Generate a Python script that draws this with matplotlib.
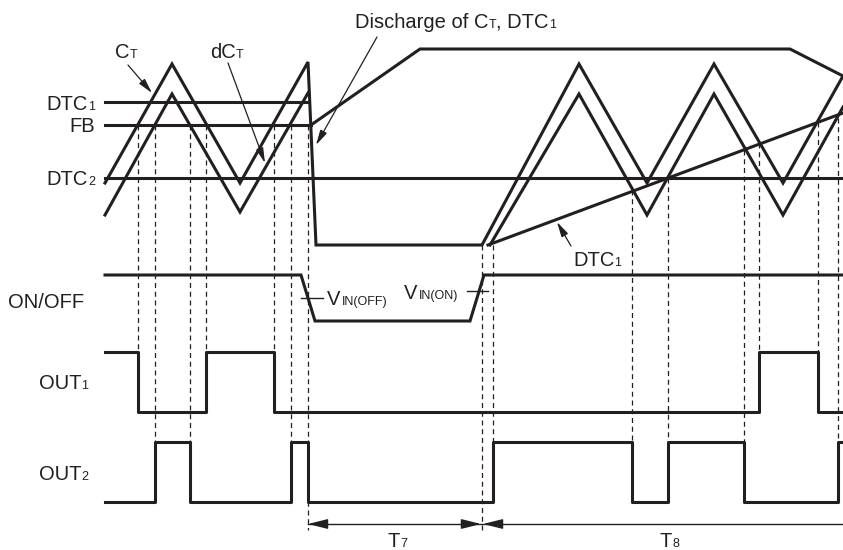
import matplotlib
matplotlib.use("Agg")
import matplotlib.pyplot as plt

plt.rcParams["font.family"] = ["Liberation Sans", "DejaVu Sans"]

INK = "#231f20"
BIG = 14.5
SUB = 9

# waveform vertices in sheet pixels (843 x 550, y grows downwards)
ct_x = [105, 172, 240, 308, 316, 482, 579, 647, 714, 783, 843]
ct_y = [183, 64, 183, 62, 245, 245, 64, 183, 64, 183, 76]
dct_a_x = [105, 172, 240, 308]
dct_a_y = [215, 94, 212, 93]
dct_b_x = [490, 579, 647, 714, 783, 843]
dct_b_y = [245, 94, 215, 94, 215, 107]
dtc1_x = [105, 308]
dtc1_y = [102, 102]
fb_x = [105, 311]
fb_y = [125, 125]
dtc1_up_x = [311, 420, 790, 843]
dtc1_up_y = [125, 49, 49, 76]
dtc1_ramp_x = [488, 843]
dtc1_ramp_y = [245, 113]
dtc2_x = [105, 843]
dtc2_y = [178, 178]
onoff_x = [105, 301, 315, 470, 484, 843]
onoff_y = [275, 275, 321, 321, 275, 275]
out1_x = [105, 138, 206, 274, 759, 818, 843]
out1_y = [352, 412, 352, 412, 352, 412, 412]
out2_x = [105, 155, 190, 291, 308, 493, 632, 668, 744, 838, 843]
out2_y = [502, 442, 502, 442, 502, 442, 502, 442, 502, 442, 442]

# dashed timing guides
dash_x = [138, 155, 190, 206, 274, 291, 308, 482, 493, 632, 668, 744, 759, 818, 838]
dash_top = [125, 125, 125, 125, 125, 125, 125, 245, 245, 190, 178, 150, 143, 122, 118]
dash_bot = [352, 442, 442, 352, 352, 442, 530, 530, 442, 442, 442, 442, 352, 352, 442]

# threshold ticks on ON/OFF
vin_ticks = [((301, 323), 298), ((467, 488), 291)]

# pointer arrows: (from, tip)
pointers = [
    ((128, 65), (152, 93)),
    ((228, 63), (265, 163)),
    ((377, 37), (316, 145)),
    ((571, 246), (557, 222)),
]

# period bar
t_bar_y = 524
t_bar_x = [308, 843]
t_tips = [(308, -1), (481, 1), (483, -1)]

# labels: x, baseline y, [(text, is_subscript)], alignment
labels = [
    (115, 58, [("C", 0), ("T", 1)], "left"),
    (210, 58, [("dC", 0), ("T", 1)], "left"),
    (355, 28, [("Discharge of C", 0), ("T", 1), (", DTC", 0), ("1", 1)], "left"),
    (95, 110, [("DTC", 0), ("1", 1)], "right"),
    (95, 132, [("FB", 0)], "right"),
    (95, 185, [("DTC", 0), ("2", 1)], "right"),
    (8, 308, [("ON/OFF", 0)], "left"),
    (88, 389, [("OUT", 0), ("1", 1)], "right"),
    (88, 480, [("OUT", 0), ("2", 1)], "right"),
    (327, 305, [("V", 0), ("IN(OFF)", 1)], "left"),
    (404, 299, [("V", 0), ("IN(ON)", 1)], "left"),
    (573, 266, [("DTC", 0), ("1", 1)], "left"),
    (388, 547, [("T", 0), ("7", 1)], "left"),
    (660, 547, [("T", 0), ("8", 1)], "left"),
]


def seg_text(ax, x, y, parts, ha="left"):
    r = ax.figure.canvas.get_renderer()
    items = []
    for s, small in parts:
        t = ax.text(0, y, s, fontsize=SUB if small else BIG, color=INK,
                    va="baseline", ha="left")
        w = t.get_window_extent(r).width
        if s == "V":
            w += 1.5  # V's ink runs to its edge, leave a hair of space
        items.append((t, w))
    total = sum(w for _, w in items)
    cx = x - total if ha == "right" else x
    for t, w in items:
        t.set_x(cx)
        cx += w


fig = plt.figure(figsize=(8.43, 5.5), dpi=100)
ax = fig.add_axes([0, 0, 1, 1])
ax.set_xlim(0, 843)
ax.set_ylim(550, 0)
ax.axis("off")

for xs, ys in [(dtc1_x, dtc1_y), (fb_x, fb_y), (dtc2_x, dtc2_y),
               (dtc1_up_x, dtc1_up_y), (dtc1_ramp_x, dtc1_ramp_y),
               (ct_x, ct_y), (dct_a_x, dct_a_y), (dct_b_x, dct_b_y),
               (onoff_x, onoff_y)]:
    ax.plot(xs, ys, color=INK, lw=2.2, solid_joinstyle="miter")

ax.step(out1_x, out1_y, where="post", color=INK, lw=2.2)
ax.step(out2_x, out2_y, where="post", color=INK, lw=2.2)

for x, y0, y1 in zip(dash_x, dash_top, dash_bot):
    ax.plot([x, x], [y0, y1], color=INK, lw=0.9, dashes=(4, 3))

for (xa, xb), y in vin_ticks:
    ax.plot([xa, xb], [y, y], color=INK, lw=1)

for start, tip in pointers:
    ax.annotate("", xy=tip, xytext=start,
                arrowprops=dict(arrowstyle="-|>,head_length=0.9,head_width=0.22",
                                color=INK, lw=0.9, shrinkA=0, shrinkB=0))

ax.plot(t_bar_x, [t_bar_y, t_bar_y], color=INK, lw=1)
for tx, d in t_tips:
    ax.annotate("", xy=(tx, t_bar_y), xytext=(tx - d * 14, t_bar_y),
                arrowprops=dict(arrowstyle="-|>,head_length=1.2,head_width=0.3",
                                color=INK, lw=1, shrinkA=0, shrinkB=0))

for x, y, parts, ha in labels:
    seg_text(ax, x, y, parts, ha)

fig.savefig("out.png", dpi=100)
